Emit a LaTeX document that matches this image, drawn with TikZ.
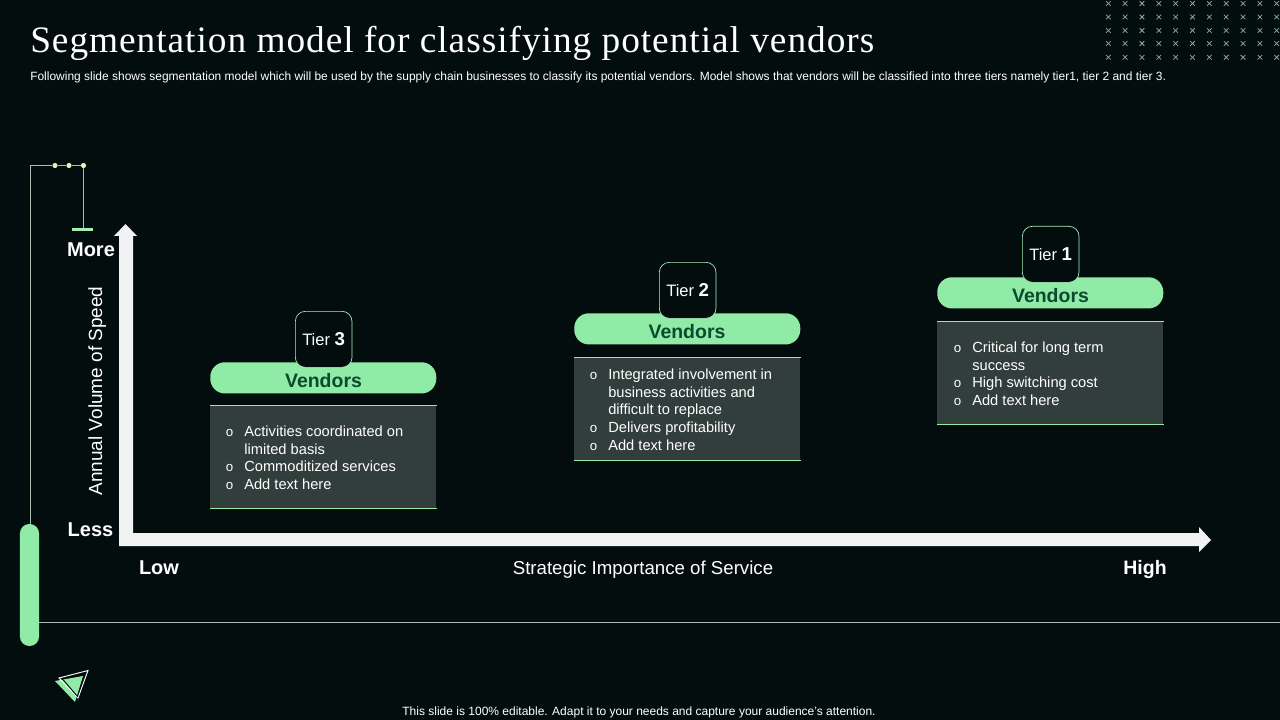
\documentclass[tikz,border=0pt]{standalone}
\usepackage{fontspec}
\setmainfont{Liberation Sans}
\newfontfamily\titlefont[LetterSpace=2.6]{Liberation Serif}
\definecolor{bgc}{HTML}{030D0E}
\definecolor{mint}{HTML}{90EBA6}
\definecolor{pale}{HTML}{A9BDB0}
\definecolor{xcol}{HTML}{86AD98}
\definecolor{dotc}{HTML}{DDF7B8}
\definecolor{cardc}{HTML}{323E3C}
\definecolor{vend}{HTML}{0B4A30}
\definecolor{axisc}{HTML}{F2F2F2}
\newcommand{\bl}{\llap{\fontsize{10}{10}\selectfont o\hspace{8.2pt}}}
\tikzset{
  x=0.75pt,y=-0.75pt,
  boldtxt/.style={text=white,inner sep=0pt,font=\fontsize{15}{18}\bfseries\selectfont},
  framel/.style={draw=pale,line width=0.5pt},
  dotn/.style={circle,fill=dotc,inner sep=0pt,minimum size=3.9pt},
  vendorpill/.style={fill=mint,rounded corners=11pt,minimum width=169.5pt,minimum height=23.4pt,inner sep=0pt},
  vendortxt/.style={inner sep=0pt,text=vend,font=\fontsize{14.6}{18}\bfseries\selectfont},
  tierbox/.style={draw=mint!75!white,fill=bgc,line width=0.5pt,rounded corners=7.5pt,minimum width=42.5pt,minimum height=42pt,inner sep=0pt,text=white,font=\fontsize{12.4}{14}\selectfont},
  cardbox/.style={fill=cardc,minimum width=169.5pt,minimum height=77.2pt,inner sep=0pt},
  cardline/.style={draw=mint,line width=0.6pt},
  cardtext/.style={text=white,inner sep=0pt,align=left,font=\fontsize{11}{13.25}\selectfont},
  xmark/.style={draw=xcol,line width=0.55pt}
}
\begin{document}
\begin{tikzpicture}
\useasboundingbox (0,0) rectangle (1280,720);
\fill[bgc] (0,0) rectangle (1280,720);

% dotted pattern
\foreach \i in {0,...,10}
  \foreach \yy in {3.5,17,30.5,43.5,57.3}
    \draw[xmark] ({1108.3+16.84*\i-2.3},\yy-2.3) -- ++(4.6,4.6) ({1108.3+16.84*\i-2.3},\yy+2.3) -- ++(4.6,-4.6);

% title
\node[anchor=base west,inner sep=0pt,text=white] (title) at (30,53) {\titlefont\fontsize{28}{32}\selectfont Segmentation model for classifying potential vendors};
\node[anchor=base west,inner sep=0pt,text=white] (sub) at (30,80.5) {\fontsize{8.985}{11}\selectfont Following slide shows segmentation model which will be used by the supply chain businesses to classify its potential vendors. Model shows that vendors will be classified into three tiers namely tier1, tier 2 and tier 3.};

% decoration frame
\coordinate (fa) at (30.5,524);
\coordinate (fb) at (30.5,165.5);
\node[dotn] (d1) at (55,165.5) {};
\node[dotn] (d2) at (69,165.5) {};
\node[dotn] (d3) at (83.5,165.5) {};
\node[fill=mint!85!white,minimum width=15.5pt,minimum height=2.4pt,inner sep=0pt] (cap) at (82.5,229.5) {};
\draw[framel] (fa) -- (fb) -- (d1) -- (d2) -- (d3) -- (d3 |- cap.north);

% pill and base line
\node[fill=mint,rounded corners=7pt,minimum width=14.3pt,minimum height=91.5pt,inner sep=0pt] (pill) at (29.5,585) {};
\coordinate (lineend) at (1280,622.5);
\draw[framel] (pill.east |- lineend) -- (lineend);

% logo
\fill[mint] (55,681) -- (83,676) -- (75,702) -- cycle;
\draw[white,line width=0.7pt] (59,678) -- (88,670.5) -- (78,698) -- cycle;
\draw[bgc,line width=0.7pt] (62,678.5) -- (78,697);

% axes
\fill[axisc] (119,546) -- (119,236) -- (114,236) -- (125.5,224) -- (137,236) -- (133,236) -- (133,533) -- (1199,533) -- (1199,527) -- (1211,540) -- (1199,552) -- (1199,546) -- cycle;

\node[boldtxt,anchor=base] (more) at (91,257) {More};
\node[boldtxt,anchor=base] (less) at (90.5,536) {Less};
\node[boldtxt,anchor=base] (low) at (159,574) {Low};
\node[boldtxt,anchor=base,font=\fontsize{14.6}{18}\bfseries\selectfont] (high) at (1145,574) {High};
\node[text=white,inner sep=0pt,font=\fontsize{14}{18}\selectfont,anchor=base] (xlab) at (643,574) {Strategic Importance of Service};
\node[text=white,inner sep=0pt,font=\fontsize{14.25}{18}\selectfont,anchor=base,rotate=90] (ylab) at (102,391) {Annual Volume of Speed};

% Tier 3
\node[cardbox,anchor=north west] (c3) at (210,405) {};
\draw[cardline] (c3.north west) -- (c3.north east) (c3.south west) -- (c3.south east);
\node[vendorpill,anchor=north west] (v3) at (210,362) {};
\node[vendortxt,anchor=base] (vt3) at (323.5,387) {Vendors};
\node[tierbox,anchor=north west] (t3) at (295,311) {Tier \fontsize{14}{14}\bfseries\selectfont 3};
\node[cardtext,anchor=north west] (x3) at (244,425.7) {\bl Activities coordinated on\\limited basis\\\bl Commoditized services\\\bl Add text here};

% Tier 2
\node[cardbox,anchor=north west] (c2) at (574,357) {};
\draw[cardline] (c2.north west) -- (c2.north east) (c2.south west) -- (c2.south east);
\node[vendorpill,anchor=north west] (v2) at (574,313) {};
\node[vendortxt,anchor=base] (vt2) at (687,338) {Vendors};
\node[tierbox,anchor=north west] (t2) at (659,262) {Tier \fontsize{14}{14}\bfseries\selectfont 2};
\node[cardtext,anchor=north west] (x2) at (608,368.7) {\bl Integrated involvement in\\business activities and\\difficult to replace\\\bl Delivers profitability\\\bl Add text here};

% Tier 1
\node[cardbox,anchor=north west] (c1) at (937,321) {};
\draw[cardline] (c1.north west) -- (c1.north east) (c1.south west) -- (c1.south east);
\node[vendorpill,anchor=north west] (v1) at (937,277) {};
\node[vendortxt,anchor=base] (vt1) at (1050.5,302) {Vendors};
\node[tierbox,anchor=north west] (t1) at (1022,226) {Tier \fontsize{14}{14}\bfseries\selectfont 1};
\node[cardtext,anchor=north west] (x1) at (972,341.7) {\bl Critical for long term\\success\\\bl High switching cost\\\bl Add text here};

% footer
\node[anchor=center,inner sep=0pt,text=white,font=\fontsize{9}{11}\selectfont] (foot) at (639,712) {This slide is 100\% editable. Adapt it to your needs and capture your audience's attention.};
\end{tikzpicture}
\end{document}
